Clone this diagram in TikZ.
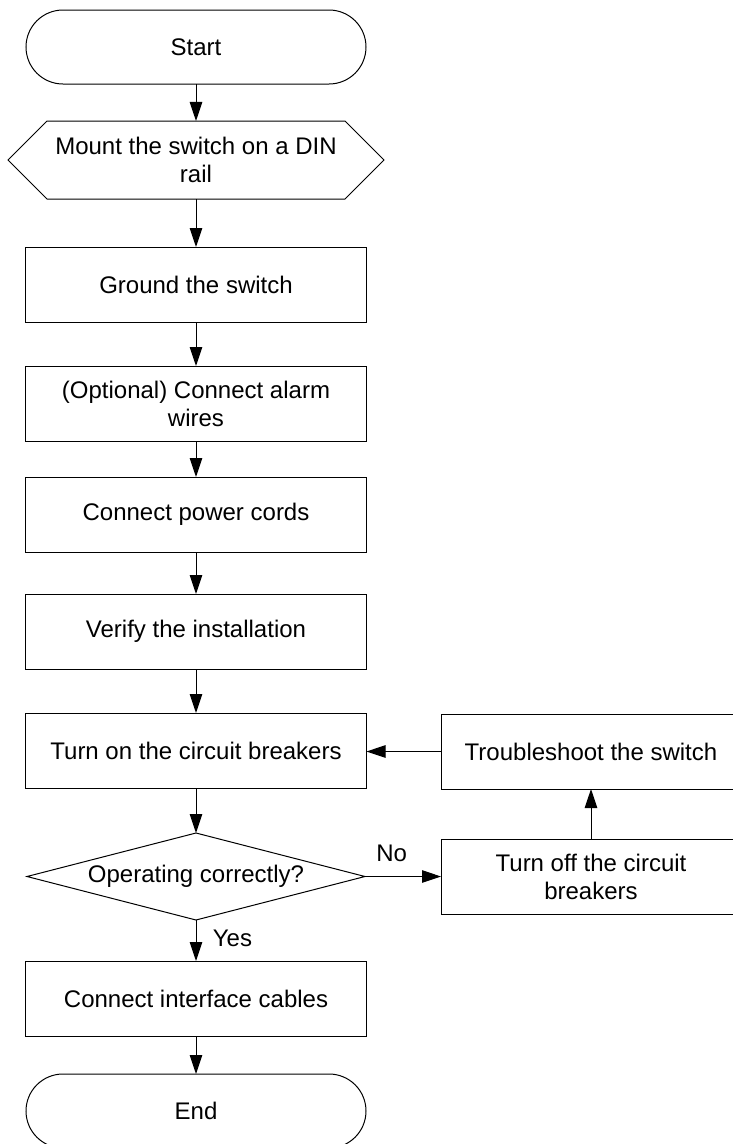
\documentclass[tikz,border=0pt]{standalone}
\usepackage{fontspec}
\setmainfont{Liberation Sans}
\usetikzlibrary{arrows.meta, positioning, shapes.geometric, shapes.symbols}

\begin{document}
\begin{tikzpicture}[
  font=\fontsize{24pt}{28pt}\selectfont,
  line width=1pt,
  flow/.style={-{Triangle[length=19pt, width=12.5pt]}},
  terminal/.style={draw, outer sep=0pt, rounded corners=37pt, minimum width=340pt, minimum height=74pt},
  procbox/.style={draw, outer sep=0pt, minimum width=341pt, minimum height=75pt, align=center, inner sep=2pt},
  prepbox/.style={draw, outer sep=0pt, signal, signal to=west and east, signal pointer angle=90, minimum width=376pt, minimum height=78pt, align=center, inner sep=2pt},
  decision/.style={draw, outer sep=0pt, diamond, aspect=3.9, minimum width=338pt, minimum height=87pt, inner sep=0pt},
]
\useasboundingbox (0pt,0pt) rectangle (733pt,-1144pt);

% main column
\node[terminal] (start) at (196pt,-47pt) {Start};
\node[prepbox, below=37pt of start] (mount) {Mount the switch on a DIN\\rail};
\node[procbox, below=48pt of mount] (ground) {Ground the switch};
\node[procbox, below=44pt of ground] (alarm) {(Optional) Connect alarm\\wires};
\node[procbox, below=36pt of alarm] (power) {Connect power cords};
\node[procbox, below=42pt of power] (verify) {Verify the installation};
\node[procbox, below=44pt of verify] (breakon) {Turn on the circuit breakers};
\node[decision, below=45pt of breakon] (check) {Operating correctly?};
\node[procbox, below=41pt of check] (cables) {Connect interface cables};
\node[terminal, below=38pt of cables] (end) {End};

% fault loop on the right
\node[procbox, minimum width=300pt, right=76pt of check] (breakoff) {Turn off the circuit\\breakers};
\node[procbox, minimum width=300pt, above=50pt of breakoff] (fix) {Troubleshoot the switch};

\foreach \a/\b in {start/mount, mount/ground, ground/alarm, alarm/power, power/verify, verify/breakon, breakon/check, cables/end, breakoff/fix}
  \draw[flow] (\a) -- (\b);

\draw[flow] (check) -- (cables) node[pos=0.45, right=13pt] {Yes};
\draw[flow] (check.east) -- (breakoff.west) node[pos=0.35, above=11pt] {No};
\draw[flow] (fix.west) -- (breakon.east |- fix.west);
\end{tikzpicture}
\end{document}
